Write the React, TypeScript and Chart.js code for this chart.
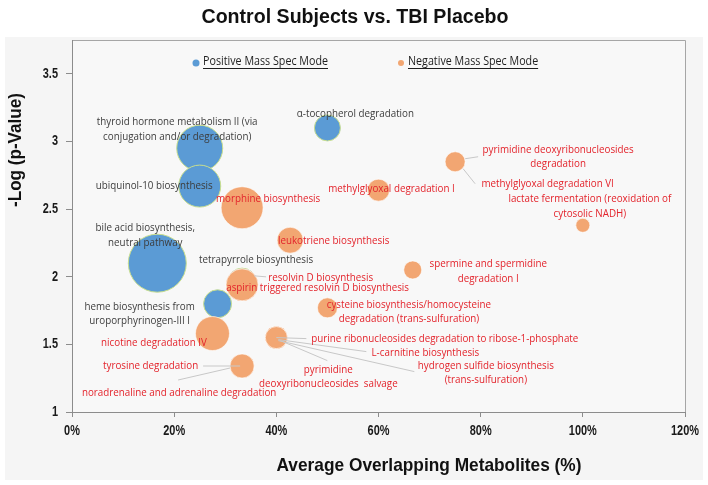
import React, { useEffect, useRef } from 'react';
import { Chart, registerables } from 'chart.js';
Chart.register(...registerables);

// ---------- data ----------
const TITLE = 'Control Subjects vs. TBI Placebo';
const X_TITLE = 'Average Overlapping Metabolites (%)';
const Y_TITLE = '-Log (p-Value)';
const SERIES_NAMES = ['Positive Mass Spec Mode', 'Negative Mass Spec Mode'];

const X_TICKS = [0, 0.2, 0.4, 0.6, 0.8, 1.0, 1.2];
const Y_TICKS = [1, 1.5, 2, 2.5, 3, 3.5];
const X_TICK_LABELS = ['0%', '20%', '40%', '60%', '80%', '100%', '120%'];
const Y_TICK_LABELS = ['1', '1.5', '2', '2.5', '3', '3.5'];

const POS_PATHWAYS = [
  ['thyroid hormone metabolism II (via', 'conjugation and/or degradation)'],
  ['ubiquinol-10 biosynthesis'],
  ['α-tocopherol degradation'],
  ['bile acid biosynthesis,', 'neutral pathway'],
  ['tetrapyrrole biosynthesis'],
  ['heme biosynthesis from', 'uroporphyrinogen-III I'],
];
const POS_OVERLAP = [0.25, 0.25, 0.5, 0.167, 0.333, 0.285];
const POS_LOGP = [2.95, 2.67, 3.1, 2.1, 1.96, 1.8];
const POS_SIZE = [23, 21, 13, 29, 14, 14];

const NEG_PATHWAYS = [
  ['morphine biosynthesis'],
  ['methylglyoxal degradation I'],
  ['pyrimidine deoxyribonucleosides', 'degradation'],
  ['methylglyoxal degradation VI'],
  ['lactate fermentation (reoxidation of', 'cytosolic NADH)'],
  ['leukotriene biosynthesis'],
  ['spermine and spermidine', 'degradation I'],
  ['resolvin D biosynthesis'],
  ['aspirin triggered resolvin D biosynthesis'],
  ['cysteine biosynthesis/homocysteine', 'degradation (trans-sulfuration)'],
  ['nicotine degradation IV'],
  ['purine ribonucleosides degradation to ribose-1-phosphate'],
  ['L-carnitine biosynthesis'],
  ['hydrogen sulfide biosynthesis', '(trans-sulfuration)'],
  ['pyrimidine', 'deoxyribonucleosides  salvage'],
  ['tyrosine degradation'],
  ['noradrenaline and adrenaline degradation'],
];
const NEG_OVERLAP = [0.333, 0.6, 0.75, 0.75, 1.0, 0.427, 0.667, 0.333, 0.333, 0.5, 0.275, 0.4, 0.4, 0.4, 0.4, 0.333, 0.333];
const NEG_LOGP = [2.51, 2.64, 2.85, 2.85, 2.38, 2.27, 2.05, 1.94, 1.94, 1.77, 1.58, 1.55, 1.55, 1.55, 1.55, 1.34, 1.34];
const NEG_SIZE = [21, 11, 10, 10, 7, 13, 9, 16, 16, 10, 17, 11, 11, 11, 11, 12, 12];

// ---------- layout (pixel offsets of labels from bubble centres) ----------
const POS_LABEL_OFFSET = [[-22.5, -26], [-45.5, 0], [28, -14], [-12, -35], [14, -22], [-78, 3]];
const NEG_LABEL_OFFSET = [
  [26, -9], [13, -1], [103, -12], [92.5, 22], [7, -26], [43.5, 1], [75.5, -6], [78.5, -7], [75.5, 3],
  [81.5, -3], [-58.5, 9], [168.5, 1], [149, 15], [209.5, 28], [52, 32], [-91.5, 0], [-63, 27],
];
const NEG_LEADERS: Record<number, number[]> = {
  2: [10, -3, 23, -5],
  3: [8, 7, 20, 22],
  7: [12, -9, 24, -8],
  11: [0, 0, 30, 1],
  12: [2, 2, 90, 14],
  13: [2, 3, 138, 34],
  14: [4, 3, 51, 23],
  15: [-39, 0, -2, 0],
  16: [-12, 2, -64, 14],
};

const BLUE = '#5b9bd5';
const ORANGE = '#f2a672';
const TEXT_DARK = '#3c3c3c';
const TEXT_RED = '#e3232b';
const LABEL_FONT = '11px "Open Sans"';
const LINE_H = 14.5;

function drawText(ctx: CanvasRenderingContext2D, text: string, x: number, y: number, f: number, align: CanvasTextAlign = 'center') {
  ctx.save();
  ctx.translate(x, y);
  ctx.scale(f, 1);
  ctx.textAlign = align;
  ctx.textBaseline = 'middle';
  ctx.fillText(text, 0, 0);
  ctx.restore();
}

function fitFactor(ctx: CanvasRenderingContext2D, font: string, ref: string, target: number) {
  ctx.font = font;
  return target / ctx.measureText(ref).width;
}

const decorPlugin = {
  id: 'decor',
  beforeDraw(chart: any) {
    const ctx = chart.ctx as CanvasRenderingContext2D;
    const a = chart.chartArea;
    ctx.save();
    ctx.fillStyle = '#ffffff';
    ctx.fillRect(0, 0, chart.width, chart.height);
    ctx.fillStyle = '#f5f5f5';
    ctx.fillRect(5, 37, chart.width - 10, chart.height - 42);
    ctx.fillStyle = '#f8f8f8';
    ctx.fillRect(a.left, a.top, a.right - a.left, a.bottom - a.top);
    ctx.strokeStyle = '#a6a6a6';
    ctx.lineWidth = 1;
    ctx.beginPath();
    ctx.moveTo(a.left + 0.5, a.bottom);
    ctx.lineTo(a.left + 0.5, a.top + 0.5);
    ctx.lineTo(a.right + 0.5, a.top + 0.5);
    ctx.lineTo(a.right + 0.5, a.bottom);
    ctx.stroke();
    ctx.restore();
  },
  afterDraw(chart: any) {
    const ctx = chart.ctx as CanvasRenderingContext2D;
    const a = chart.chartArea;
    const xs = chart.scales.x;
    const ys = chart.scales.y;
    ctx.save();

    // leaders
    const negMeta = chart.getDatasetMeta(1);
    ctx.strokeStyle = '#c8c8c8';
    ctx.lineWidth = 1;
    Object.keys(NEG_LEADERS).forEach((k) => {
      const i = Number(k);
      const p = negMeta.data[i];
      const l = NEG_LEADERS[i];
      ctx.beginPath();
      ctx.moveTo(p.x + l[0], p.y + l[1]);
      ctx.lineTo(p.x + l[2], p.y + l[3]);
      ctx.stroke();
    });

    // labels
    const lf = fitFactor(ctx, LABEL_FONT, 'purine ribonucleosides degradation to ribose-1-phosphate', 267);
    ctx.font = LABEL_FONT;
    const posMeta = chart.getDatasetMeta(0);
    ctx.fillStyle = TEXT_DARK;
    POS_PATHWAYS.forEach((lines, i) => {
      const p = posMeta.data[i];
      const [dx, dy] = POS_LABEL_OFFSET[i];
      lines.forEach((ln, j) => drawText(ctx, ln, p.x + dx, p.y + dy + j * LINE_H, lf));
    });
    ctx.fillStyle = TEXT_RED;
    NEG_PATHWAYS.forEach((lines, i) => {
      const p = negMeta.data[i];
      const [dx, dy] = NEG_LABEL_OFFSET[i];
      lines.forEach((ln, j) => drawText(ctx, ln, p.x + dx, p.y + dy + j * LINE_H, lf));
    });

    // legend
    const legFont = '12px "Open Sans"';
    const gf = fitFactor(ctx, legFont, SERIES_NAMES[0], 125);
    ctx.font = legFont;
    const legendItems = [
      { x: 196, color: BLUE, r: 3.5 },
      { x: 401, color: ORANGE, r: 3 },
    ];
    legendItems.forEach((it, i) => {
      ctx.fillStyle = it.color;
      ctx.beginPath();
      ctx.arc(it.x, 63, it.r, 0, Math.PI * 2);
      ctx.fill();
      ctx.fillStyle = '#1e1e1e';
      const tx = it.x + 7;
      drawText(ctx, SERIES_NAMES[i], tx, 62, gf, 'left');
      const w = ctx.measureText(SERIES_NAMES[i]).width * gf;
      ctx.strokeStyle = '#1e1e1e';
      ctx.lineWidth = 1;
      ctx.beginPath();
      ctx.moveTo(tx, 68.5);
      ctx.lineTo(tx + w, 68.5);
      ctx.stroke();
    });

    // tick labels
    const tickFont = 'bold 14px "Liberation Sans"';
    const tf = fitFactor(ctx, tickFont, '120%', 28);
    ctx.font = tickFont;
    ctx.fillStyle = '#1a1a1a';
    X_TICKS.forEach((v, i) => drawText(ctx, X_TICK_LABELS[i], xs.getPixelForValue(v), a.bottom + 19, tf));
    Y_TICKS.forEach((v, i) => drawText(ctx, Y_TICK_LABELS[i], a.left - 14, ys.getPixelForValue(v), tf, 'right'));

    // titles
    const titleFont = 'bold 20px "Liberation Sans"';
    const ttf = fitFactor(ctx, titleFont, TITLE, 307);
    ctx.font = titleFont;
    ctx.fillStyle = '#111111';
    drawText(ctx, TITLE, 355, 17, ttf);

    const axFont = 'bold 19px "Liberation Sans"';
    const xf = fitFactor(ctx, axFont, X_TITLE, 305);
    ctx.font = axFont;
    drawText(ctx, X_TITLE, 429, 466, xf);
    const yf = fitFactor(ctx, axFont, Y_TITLE, 114);
    ctx.font = axFont;
    ctx.save();
    ctx.translate(16, 150);
    ctx.rotate(-Math.PI / 2);
    drawText(ctx, Y_TITLE, 0, 0, yf);
    ctx.restore();

    ctx.restore();
  },
};

export default function App() {
  const ref = useRef<HTMLCanvasElement | null>(null);
  useEffect(() => {
    if (!ref.current) return;
    const chart = new Chart(ref.current, {
      type: 'bubble',
      data: {
        datasets: [
          {
            label: SERIES_NAMES[0],
            data: POS_OVERLAP.map((x, i) => ({ x, y: POS_LOGP[i], r: POS_SIZE[i] })),
            backgroundColor: BLUE,
            borderColor: '#c9df8e',
            borderWidth: 1,
            order: 2,
          },
          {
            label: SERIES_NAMES[1],
            data: NEG_OVERLAP.map((x, i) => ({ x, y: NEG_LOGP[i], r: NEG_SIZE[i] })),
            backgroundColor: ORANGE,
            borderColor: 'rgba(255,255,255,0.6)',
            borderWidth: 1,
            order: 1,
          },
        ],
      },
      options: {
        responsive: false,
        animation: false,
        events: [],
        clip: false as any,
        layout: { autoPadding: false, padding: { left: 0, top: 40, right: 23, bottom: 0 } },
        plugins: { legend: { display: false }, tooltip: { enabled: false }, title: { display: false } },
        scales: {
          x: {
            type: 'linear',
            min: 0,
            max: 1.2,
            afterBuildTicks: (s: any) => { s.ticks = X_TICKS.map((value) => ({ value })); },
            afterFit: (s: any) => { s.height = 73; },
            ticks: { display: false },
            grid: { display: true, drawOnChartArea: false, drawTicks: true, tickLength: 5, color: '#8c8c8c' },
            border: { display: true, color: '#8c8c8c' },
          },
          y: {
            type: 'linear',
            min: 1,
            max: 3.75,
            afterBuildTicks: (s: any) => { s.ticks = Y_TICKS.map((value) => ({ value })); },
            afterFit: (s: any) => { s.width = 72; },
            ticks: { display: false },
            grid: { display: true, drawOnChartArea: false, drawTicks: true, tickLength: 6, color: '#8c8c8c' },
            border: { display: true, color: '#8c8c8c' },
          },
        },
      },
      plugins: [decorPlugin],
    });
    return () => chart.destroy();
  }, []);
  return (
    <div style={{ position: 'fixed', left: 0, top: 0, width: 708, height: 485 }}>
      <canvas ref={ref} width={708} height={485} style={{ display: 'block', width: 708, height: 485 }} />
    </div>
  );
}
